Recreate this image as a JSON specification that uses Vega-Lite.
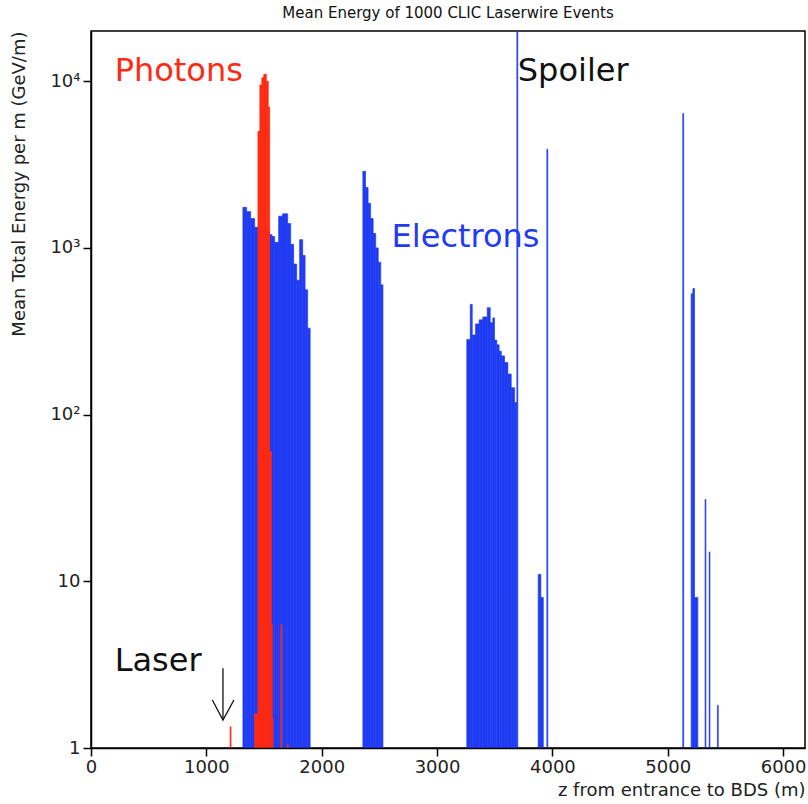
{
  "$schema": "https://vega.github.io/schema/vega-lite/v6.json",
  "width": 714,
  "height": 717,
  "autosize": {"type": "none"},
  "padding": {"left": 91, "top": 31, "right": 3, "bottom": 56},
  "background": "white",
  "title": {
    "text": "Mean Energy of 1000 CLIC Laserwire Events",
    "font": "DejaVu Sans",
    "fontSize": 15,
    "fontWeight": "normal",
    "color": "#111111",
    "anchor": "middle",
    "offset": 10
  },
  "config": {
    "view": {"stroke": "black", "strokeWidth": 1.5},
    "font": "DejaVu Sans"
  },
  "datasets": {
    "bins": [
      {"kind": "electron", "z0": 1317, "z1": 1349, "e": 1750},
      {"kind": "electron", "z0": 1349, "z1": 1384, "e": 1650},
      {"kind": "electron", "z0": 1384, "z1": 1419, "e": 1500},
      {"kind": "electron", "z0": 1419, "z1": 1449, "e": 1330},
      {"kind": "electron", "z0": 1449, "z1": 1499, "e": 1290},
      {"kind": "electron", "z0": 1499, "z1": 1549, "e": 1260},
      {"kind": "electron", "z0": 1549, "z1": 1569, "e": 1200},
      {"kind": "electron", "z0": 1569, "z1": 1592, "e": 1170},
      {"kind": "electron", "z0": 1592, "z1": 1627, "e": 1080},
      {"kind": "electron", "z0": 1627, "z1": 1661, "e": 1550},
      {"kind": "electron", "z0": 1661, "z1": 1705, "e": 1600},
      {"kind": "electron", "z0": 1705, "z1": 1731, "e": 1400},
      {"kind": "electron", "z0": 1731, "z1": 1757, "e": 1050},
      {"kind": "electron", "z0": 1757, "z1": 1783, "e": 800},
      {"kind": "electron", "z0": 1783, "z1": 1809, "e": 640},
      {"kind": "electron", "z0": 1809, "z1": 1835, "e": 1120},
      {"kind": "electron", "z0": 1835, "z1": 1856, "e": 900},
      {"kind": "electron", "z0": 1856, "z1": 1878, "e": 560},
      {"kind": "electron", "z0": 1878, "z1": 1900, "e": 330},
      {"kind": "electron", "z0": 2357, "z1": 2380, "e": 2880},
      {"kind": "electron", "z0": 2380, "z1": 2402, "e": 2300},
      {"kind": "electron", "z0": 2402, "z1": 2424, "e": 1850},
      {"kind": "electron", "z0": 2424, "z1": 2446, "e": 1500},
      {"kind": "electron", "z0": 2446, "z1": 2468, "e": 1220},
      {"kind": "electron", "z0": 2468, "z1": 2490, "e": 1000},
      {"kind": "electron", "z0": 2490, "z1": 2512, "e": 820},
      {"kind": "electron", "z0": 2512, "z1": 2531, "e": 600},
      {"kind": "electron", "z0": 3258, "z1": 3288, "e": 282},
      {"kind": "electron", "z0": 3288, "z1": 3305, "e": 458},
      {"kind": "electron", "z0": 3305, "z1": 3334, "e": 300},
      {"kind": "electron", "z0": 3334, "z1": 3365, "e": 350},
      {"kind": "electron", "z0": 3365, "z1": 3397, "e": 370},
      {"kind": "electron", "z0": 3397, "z1": 3435, "e": 385},
      {"kind": "electron", "z0": 3435, "z1": 3461, "e": 438},
      {"kind": "electron", "z0": 3461, "z1": 3484, "e": 356},
      {"kind": "electron", "z0": 3484, "z1": 3498, "e": 380},
      {"kind": "electron", "z0": 3498, "z1": 3518, "e": 280},
      {"kind": "electron", "z0": 3518, "z1": 3538, "e": 262},
      {"kind": "electron", "z0": 3538, "z1": 3557, "e": 240},
      {"kind": "electron", "z0": 3557, "z1": 3585, "e": 225},
      {"kind": "electron", "z0": 3585, "z1": 3614, "e": 205},
      {"kind": "electron", "z0": 3614, "z1": 3643, "e": 175},
      {"kind": "electron", "z0": 3643, "z1": 3672, "e": 145},
      {"kind": "electron", "z0": 3672, "z1": 3690, "e": 118},
      {"kind": "electron", "z0": 3692, "z1": 3700, "e": 20000},
      {"kind": "electron", "z0": 3877, "z1": 3900, "e": 11},
      {"kind": "electron", "z0": 3900, "z1": 3921, "e": 8},
      {"kind": "electron", "z0": 3952, "z1": 3960, "e": 3900},
      {"kind": "electron", "z0": 5130, "z1": 5138, "e": 6400},
      {"kind": "electron", "z0": 5203, "z1": 5218, "e": 530},
      {"kind": "electron", "z0": 5218, "z1": 5232, "e": 570},
      {"kind": "electron", "z0": 5232, "z1": 5261, "e": 8},
      {"kind": "electron", "z0": 5324, "z1": 5331, "e": 31},
      {"kind": "electron", "z0": 5359, "z1": 5366, "e": 15},
      {"kind": "electron", "z0": 5431, "z1": 5438, "e": 1.8},
      {"kind": "photon", "z0": 1206, "z1": 1214, "e": 1.34},
      {"kind": "photon", "z0": 1418, "z1": 1447, "e": 1.6},
      {"kind": "photon", "z0": 1447, "z1": 1464, "e": 5000},
      {"kind": "photon", "z0": 1464, "z1": 1481, "e": 9500},
      {"kind": "photon", "z0": 1481, "z1": 1498, "e": 10500},
      {"kind": "photon", "z0": 1498, "z1": 1520, "e": 11000},
      {"kind": "photon", "z0": 1520, "z1": 1537, "e": 10000},
      {"kind": "photon", "z0": 1537, "z1": 1549, "e": 7000},
      {"kind": "photon", "z0": 1549, "z1": 1564, "e": 60},
      {"kind": "photon", "z0": 1564, "z1": 1572, "e": 5.5},
      {"kind": "photon", "z0": 1572, "z1": 1578, "e": 1.5},
      {"kind": "photon", "z0": 1646, "z1": 1654, "e": 5.5},
      {"kind": "photon", "z0": 1702, "z1": 1710, "e": 1.05}
    ],
    "arrow": [
      {"part": "shaft", "o": 0, "z": 1144, "e": 3.01},
      {"part": "shaft", "o": 1, "z": 1144, "e": 1.47},
      {"part": "head", "o": 0, "z": 1052, "e": 1.94},
      {"part": "head", "o": 1, "z": 1144, "e": 1.47},
      {"part": "head", "o": 2, "z": 1239, "e": 1.94}
    ],
    "notes": [
      {"label": "Photons", "kind": "photon", "z": 205, "e": 11500},
      {"label": "Spoiler", "kind": "note", "z": 3700, "e": 11500},
      {"label": "Electrons", "kind": "electron", "z": 2606, "e": 1156},
      {"label": "Laser", "kind": "note", "z": 205, "e": 3.33}
    ]
  },
  "layer": [
    {
      "data": {"name": "bins"},
      "mark": {"type": "rect", "clip": true, "strokeWidth": 0.7},
      "encoding": {
        "x": {
          "field": "z0",
          "type": "quantitative",
          "scale": {"domain": [0, 6190], "nice": false, "zero": false},
          "axis": {
            "orient": "bottom",
            "zindex": 1,
            "values": [0, 1000, 2000, 3000, 4000, 5000, 6000],
            "format": "d",
            "ticks": true,
            "tickSize": 8,
            "tickColor": "black",
            "tickWidth": 1.5,
            "domainColor": "black",
            "domainWidth": 1.5,
            "labelPadding": 2,
            "labelFontSize": 18,
            "labelColor": "#222222",
            "labelFlush": false,
            "labelOverlap": false,
            "grid": false,
            "title": "z from entrance to BDS (m)",
            "titleAnchor": "end",
            "titleFontSize": 18,
            "titleFontWeight": "normal",
            "titleColor": "#222222",
            "titlePadding": 5
          }
        },
        "x2": {"field": "z1"},
        "y": {
          "field": "e",
          "type": "quantitative",
          "scale": {"type": "log", "domain": [1, 20000], "nice": false},
          "axis": {
            "orient": "left",
            "zindex": 1,
            "values": [1, 10, 100, 1000, 10000],
            "labelExpr": "datum.value === 1 ? '1' : datum.value === 10 ? '10' : datum.value === 100 ? '10²' : datum.value === 1000 ? '10³' : '10⁴'",
            "ticks": true,
            "tickSize": 8,
            "tickColor": "black",
            "tickWidth": 1.5,
            "domainColor": "black",
            "domainWidth": 1.5,
            "labelPadding": 3,
            "labelFontSize": 18,
            "labelColor": "#222222",
            "labelOverlap": false,
            "grid": false,
            "title": "Mean Total Energy per m (GeV/m)",
            "titleAnchor": "end",
            "titleFontSize": 18,
            "titleFontWeight": "normal",
            "titleColor": "#222222",
            "titleX": -63
          }
        },
        "y2": {"datum": 1},
        "color": {
          "field": "kind",
          "type": "nominal",
          "scale": {"domain": ["electron", "photon", "note"], "range": ["#1f3cf2", "#ff2a12", "#111111"]},
          "legend": null
        },
        "stroke": {
          "field": "kind",
          "type": "nominal",
          "scale": {"domain": ["electron", "photon", "note"], "range": ["#1f3cf2", "#ff2a12", "#111111"]},
          "legend": null
        }
      }
    },
    {
      "data": {"name": "arrow"},
      "mark": {"type": "line", "color": "#111111", "strokeWidth": 1.3},
      "encoding": {
        "x": {"field": "z", "type": "quantitative"},
        "y": {"field": "e", "type": "quantitative"},
        "detail": {"field": "part"},
        "order": {"field": "o"}
      }
    },
    {
      "data": {"name": "notes"},
      "mark": {"type": "text", "align": "left", "baseline": "middle", "fontSize": 32, "font": "DejaVu Sans"},
      "encoding": {
        "x": {"field": "z", "type": "quantitative"},
        "y": {"field": "e", "type": "quantitative"},
        "text": {"field": "label"},
        "color": {"field": "kind", "type": "nominal", "legend": null}
      }
    }
  ]
}
